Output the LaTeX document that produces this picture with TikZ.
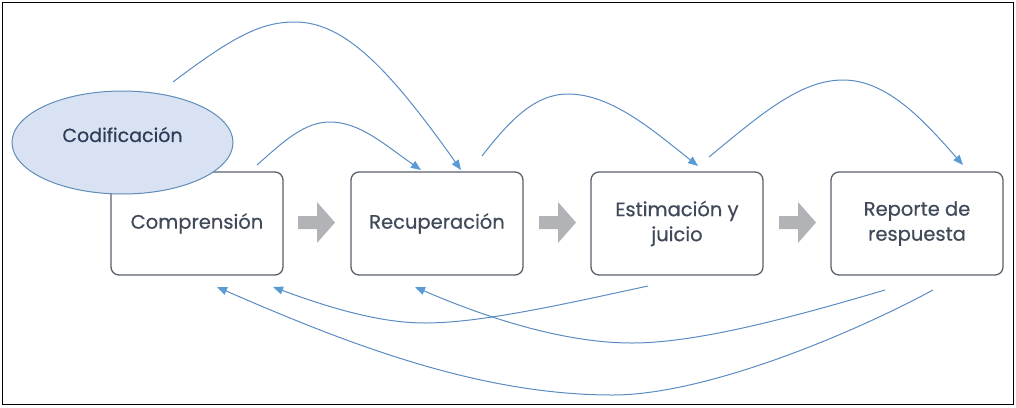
\documentclass[tikz,border=0pt]{standalone}
\usepackage{fontspec}
\setmainfont{Poppins}
\newfontfamily\labelfont[FakeBold=0.5]{Poppins}
\usetikzlibrary{arrows.meta,shapes.geometric}
\definecolor{boxline}{HTML}{5A606B}
\definecolor{txt}{HTML}{414A5A}
\definecolor{ellfill}{HTML}{D8E2F2}
\definecolor{ellline}{HTML}{5F8CB9}
\definecolor{codtxt}{HTML}{2F3C58}
\definecolor{conn}{HTML}{5A8CC3}
\definecolor{tip}{HTML}{5B9BD5}
\definecolor{garrow}{HTML}{B1B3B7}
\tikzset{
  stagebox/.style={draw=boxline, line width=1.3pt, rounded corners=8pt, fill=white,
    minimum width=172pt, minimum height=103pt, inner sep=0pt, align=center,
    text=txt, font=\labelfont\fontsize{19.5}{25}\selectfont},
  connector/.style={draw=conn, line width=1pt,
    -{Triangle[length=10pt,width=8pt,fill=tip,color=tip]}},
  blockarrow/.pic={\fill[garrow] (0,-6.5) -- (19,-6.5) -- (19,-20.5) -- (37,0) -- (19,20.5) -- (19,6.5) -- (0,6.5) -- cycle;}
}
\begin{document}
\begin{tikzpicture}[x=1pt,y=-1pt]
\useasboundingbox (0,0) rectangle (1016,407);
\draw[black, line width=1pt] (2.5,2.5) rectangle (1013,404.5);
% boxes
\node[stagebox] (comp) at (197,223.5) {Comprensión};
\node[ellipse, draw=ellline, line width=1pt, fill=ellfill, minimum width=221pt, minimum height=103pt,
  inner sep=0pt, text=codtxt, font=\labelfont\fontsize{19}{22}\selectfont] (cod) at (122.5,142.5) {\raisebox{16pt}{Codificación}};
\node[stagebox] (rec) at (437,223.5) {Recuperación};
\node[stagebox] (est) at (677,223.5) {Estimación y\\juicio};
\node[stagebox] (rep) at (917,223.5) {Reporte de\\respuesta};
% block arrows
\pic at (298,222.5) {blockarrow};
\pic at (539,222.5) {blockarrow};
\pic at (779,222.5) {blockarrow};
% free ends
\coordinate (s1) at (173,82);
\coordinate (s2) at (257,165);
\coordinate (s3) at (482,156);
\coordinate (s4) at (709,157);
\coordinate (s5) at (648,286);
\coordinate (s6) at (885,290);
\coordinate (s7) at (933,290);
\coordinate (t1) at (461,170);
\coordinate (t2) at (421,170);
\coordinate (t3) at (698,166);
\coordinate (t4) at (963,165);
\coordinate (t5) at (273,287);
\coordinate (t6) at (415,287);
\coordinate (t7) at (217,287);
% top connectors
\draw[connector] (s1) .. controls (235,35) and (262,22) .. (295,22) .. controls (345,22) and (390,70) .. (t1);
\draw[connector] (s2) .. controls (285,140) and (305,122) .. (330,122) .. controls (360,122) and (385,145) .. (t2);
\draw[connector] (s3) .. controls (510,120) and (535,94) .. (568,94) .. controls (612,94) and (655,132) .. (t3);
\draw[connector] (s4) .. controls (760,115) and (800,80) .. (843,80) .. controls (888,80) and (925,122) .. (t4);
% bottom connectors
\draw[connector] (s5) .. controls (560,305) and (480,323) .. (425,323) .. controls (380,323) and (330,308) .. (t5);
\draw[connector] (s6) .. controls (800,315) and (700,343) .. (632,343) .. controls (560,343) and (480,315) .. (t6);
\draw[connector] (s7) .. controls (840,340) and (700,395) .. (613,395) .. controls (480,395) and (350,345) .. (t7);
\end{tikzpicture}
\end{document}
